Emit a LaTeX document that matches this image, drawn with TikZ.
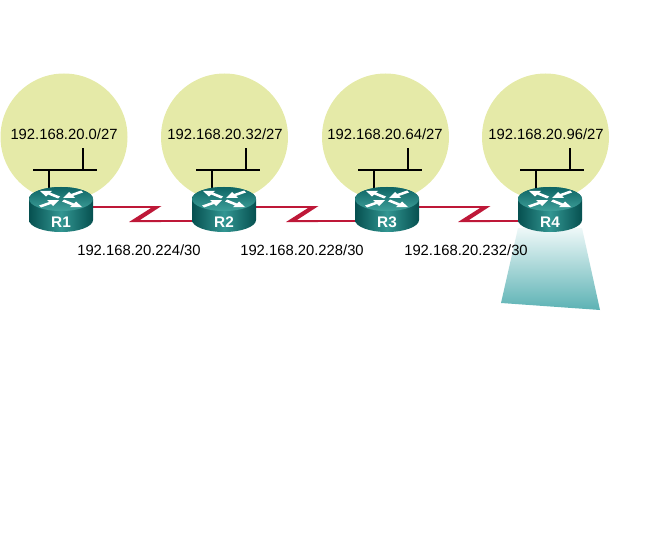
\documentclass[tikz,border=0pt]{standalone}
\usepackage{fontspec}
\setmainfont{Liberation Sans}
\usetikzlibrary{calc}
\definecolor{subnet}{RGB}{229,234,168}
\definecolor{serial}{RGB}{190,24,56}
\definecolor{rdark}{RGB}{6,80,80}
\definecolor{rmid}{RGB}{50,150,146}
\definecolor{rtopa}{RGB}{14,100,100}
\definecolor{rtopb}{RGB}{62,160,154}
\definecolor{conetop}{RGB}{238,248,248}
\definecolor{conebot}{RGB}{92,178,180}
\tikzset{
  x=0.75pt,y=-0.75pt,
  subnetdisc/.style={circle,fill=subnet,minimum size=95.25pt,inner sep=0pt},
  addr/.style={font=\fontsize{11.1}{13}\selectfont,text=black,inner sep=0pt},
  lan/.style={line width=1.9pt,black},
  wan/.style={line width=1.5pt,serial},
  rlabel/.style={font=\bfseries\fontsize{11.5}{13}\selectfont,text=white,inner sep=0pt},
  rarrow/.style={fill=white,draw=none},
}
\newcommand{\routerbody}[1]{%
  \begin{scope}[shift={(#1,0)}]
    \path[left color=rdark,right color=rdark,middle color=rmid]
      (-32,199) -- (-32,220) arc[start angle=180,end angle=0,x radius=32,y radius=12] -- (32,199)
      arc[start angle=0,end angle=-180,x radius=32,y radius=12] -- cycle;
    \path[top color=rtopa,bottom color=rtopb]
      (0,199) ellipse[x radius=32,y radius=12];
    \begin{scope}[shift={(0,199)}]
      % lower right, outward
      \fill[rarrow] (3,0.5) -- (13,4.5) -- (15,2.5) -- (21,8) -- (9,8) -- (11,6.5) -- (1,2.5) -- cycle;
      % upper left, outward
      \fill[rarrow] (-3,-0.5) -- (-13,-4.5) -- (-15,-2.5) -- (-21,-8) -- (-9,-8) -- (-11,-6.5) -- (-1,-2.5) -- cycle;
      % upper right, inward
      \fill[rarrow] (20,-8.5) -- (10,-5) -- (8,-7) -- (2,-1) -- (14,-1) -- (12,-3) -- (22,-6.5) -- cycle;
      % lower left, inward
      \fill[rarrow] (-20,8.5) -- (-10,5) -- (-8,7) -- (-2,1) -- (-14,1) -- (-12,3) -- (-22,6.5) -- cycle;
    \end{scope}
  \end{scope}}
\newcommand{\zigzag}[1]{% x of the right tip
  \fill[serial] (#1-10,206) -- (#1+0.5,206) -- (#1-21,220) -- (#1,220) -- (#1,222) -- (#1-32,222) -- (#1-10,208) -- cycle;
}
\begin{document}
\begin{tikzpicture}
\useasboundingbox (0,0) rectangle (653,556);
% subnets
\node[subnetdisc] (n1) at (64,137) {};
\node[subnetdisc] (n2) at (224.5,137) {};
\node[subnetdisc] (n3) at (385.5,137) {};
\node[subnetdisc] (n4) at (545.5,137) {};
% radiating cone beneath R4
\path[top color=conetop,bottom color=conebot] (518,228) -- (582,228) -- (600,310) -- (501,303) -- cycle;
% switches
\foreach \i/\x in {1/61,2/224,3/386,4/548}{
  \coordinate (sw\i) at (\x-12,170);
  \coordinate (swl\i) at (\x-28,170);
  \coordinate (swr\i) at (\x+36,170);
  \coordinate (st\i) at (\x+22,170);
  \coordinate (sttop\i) at (\x+22,148);
  \coordinate (rt\i) at (\x-12,190);
  \draw[lan] (swl\i) -- (swr\i);
  \draw[lan] (st\i) -- (sttop\i);
  \draw[lan] (sw\i) -- (rt\i);
}
% serial links
\coordinate (a1) at (92,207); \coordinate (b1) at (155,207);
\coordinate (c1) at (155,221); \coordinate (d1) at (192,221);
\coordinate (a2) at (256,207); \coordinate (b2) at (312,207);
\coordinate (c2) at (312,221); \coordinate (d2) at (355,221);
\coordinate (a3) at (419,207); \coordinate (b3) at (484,207);
\coordinate (c3) at (485,221); \coordinate (d3) at (519,221);
\foreach \i in {1,2,3}{
  \draw[wan] (a\i) -- (b\i);
  \draw[wan] (c\i) -- (d\i);
}
\zigzag{161}
\zigzag{318}
\zigzag{490}
% routers
\routerbody{61}
\routerbody{224}
\routerbody{387}
\routerbody{550}
\node[rlabel] (R1) at (61,222) {R1};
\node[rlabel] (R2) at (224,222) {R2};
\node[rlabel] (R3) at (387,222) {R3};
\node[rlabel] (R4) at (550,222) {R4};
% labels
\node[addr] (l1) at (64,134) {192.168.20.0/27};
\node[addr] (l2) at (225,134) {192.168.20.32/27};
\node[addr] (l3) at (385,134) {192.168.20.64/27};
\node[addr] (l4) at (546,134) {192.168.20.96/27};
\node[addr] (w1) at (139,250) {192.168.20.224/30};
\node[addr] (w2) at (302,250) {192.168.20.228/30};
\node[addr] (w3) at (466,250) {192.168.20.232/30};
\end{tikzpicture}
\end{document}
